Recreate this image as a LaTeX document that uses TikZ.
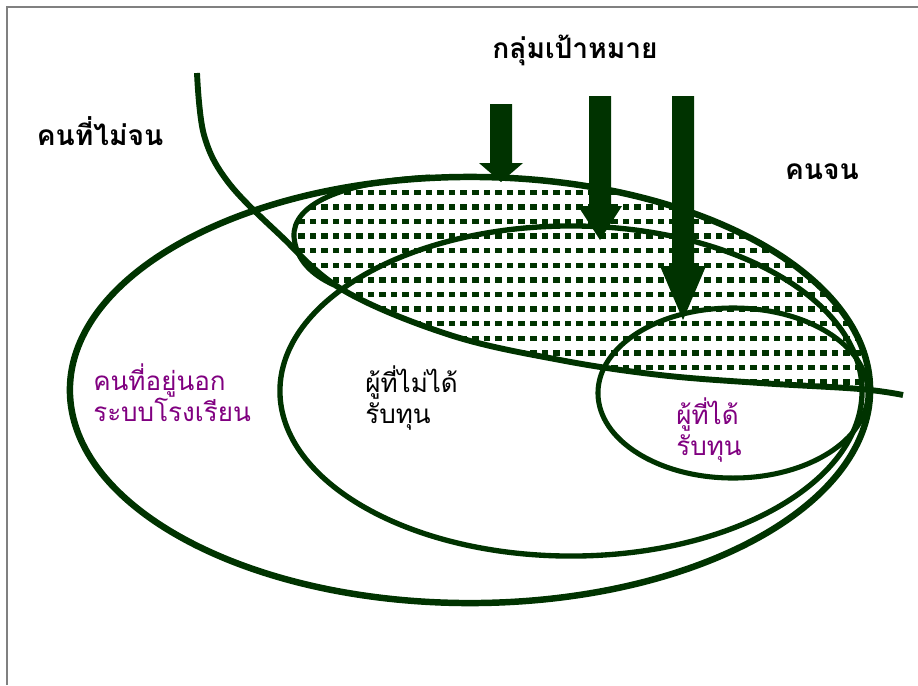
\documentclass[tikz,border=0pt]{standalone}
\usepackage{fontspec}
\newfontfamily\thaifont[Script=Thai]{Loma}
\definecolor{leafgreen}{RGB}{0,51,0}
\definecolor{labelpurple}{RGB}{128,0,128}
\newcommand{\sweepline}{plot[smooth, tension=0.6] coordinates {(197,73) (204,135) (228,182) (280,235) (343,290) (450,335) (560,360) (660,375) (760,383) (860,389) (903,395)}}
\newcommand{\leftedge}{(430,177) .. controls (340,182) and (292,205) .. (294,237) .. controls (296,260) and (312,275) .. (334,285)}
\newcommand{\targetarrow}[6]{%
  % #1 x, #2 top, #3 head base, #4 tip, #5 half shaft, #6 half head
  \fill[leafgreen] (#1-#5,#2) -- (#1+#5,#2) -- (#1+#5,#3) -- (#1+#6,#3)
    -- (#1,#4) -- (#1-#6,#3) -- (#1-#5,#3) -- cycle;
}

\begin{document}
\begin{tikzpicture}[x=0.025cm, y=-0.025cm,
  ring/.style={draw=leafgreen, line width=4.2pt},
  head/.style={font=\thaifont\bfseries\fontsize{20}{24}\selectfont, text=black},
  region/.style={font=\thaifont\fontsize{18.5}{22}\selectfont, align=left, anchor=west, inner sep=0pt},
  dot/.style={fill=leafgreen}]

  \useasboundingbox (0,0) rectangle (918,685);

  % slide frame
  \draw[gray, line width=1pt] (7,685) -- (7,7) -- (918,7);

  % dotted part of the target group
  \begin{scope}
    \clip (470,390) ellipse [x radius=10cm, y radius=5.325cm];
    \clip \sweepline -- (918,395) -- (918,0) -- (197,0) -- cycle;
    \clip (430,150) -- \leftedge -- (340,450) -- (918,450) -- (918,150) -- cycle;
    \foreach \r in {0,...,13}
      \foreach \c in {0,...,50}
        \fill[dot] ({298+11.6*\c},{189.5+14.6*\r}) rectangle ++(6.5,5.5);
  \end{scope}

  % left edge of the target group
  \draw[ring, line width=3.6pt] \leftedge;

  % the three groups
  \draw[ring, line width=4.6pt] (470,390) ellipse [x radius=10cm, y radius=5.325cm];
  \draw[ring, line width=3.8pt] (571,391) ellipse [x radius=7.275cm, y radius=4.125cm];
  \draw[ring, line width=3.6pt] (733,393) ellipse [x radius=3.375cm, y radius=2.125cm];

  % poor / not poor border
  \draw[ring, line width=4.2pt] \sweepline;

  % arrows to the target group
  \targetarrow{501}{104}{163}{182}{11}{22}
  \targetarrow{600}{96}{206}{240}{11}{22}
  \targetarrow{683}{96}{266}{320}{11}{23}

  % labels
  \node[head] (target) at (575,50) {กลุ่มเป้าหมาย};
  \node[head] (notpoor) at (100,131) {คนที่ไม่จน};
  \node[head] (poor) at (822,172) {คนจน};
  \node[region, text=labelpurple] (outside) at (93,393) {คนที่อยู่นอก\\ระบบโรงเรียน};
  \node[region, text=black] (nofund) at (365,398) {ผู้ที่ไม่ได้\\รับทุน};
  \node[region, text=labelpurple] (fund) at (676,430) {ผู้ที่ได้\\รับทุน};

\end{tikzpicture}
\end{document}
